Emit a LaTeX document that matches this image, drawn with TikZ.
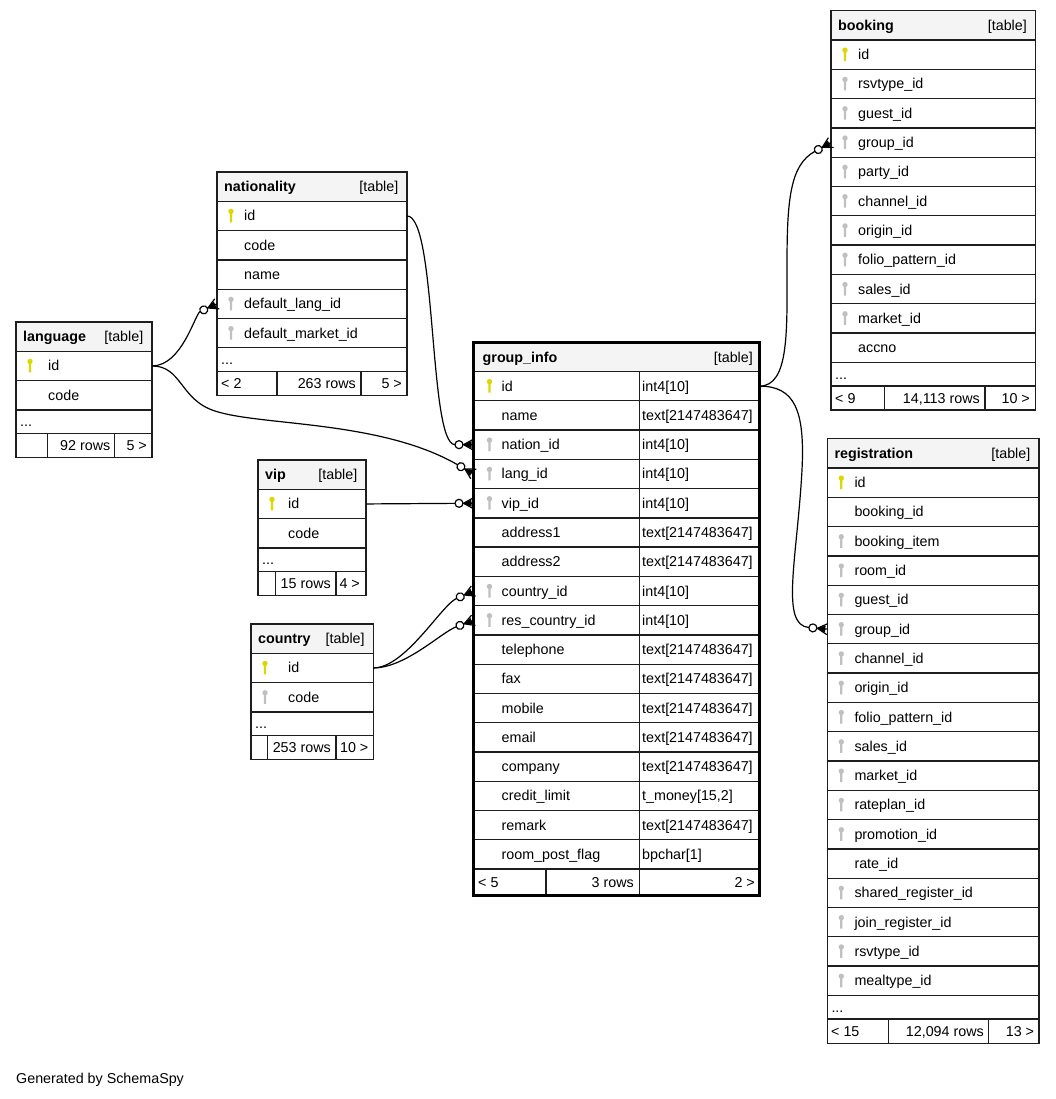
\documentclass[tikz,border=0pt]{standalone}
\usepackage{fontspec}
\setmainfont{Liberation Sans}
\usetikzlibrary{arrows.meta}
\definecolor{chaveP}{RGB}{222,214,0}
\definecolor{chaveE}{RGB}{192,192,192}
\definecolor{fundocab}{RGB}{244,244,244}
\definecolor{borda}{RGB}{30,30,30}
\pgfdeclarearrow{ %Pe de galinha com circulo (zero ou muitos)
  name = PeCorvo,
  setup code = {
    \pgfarrowssettipend{0pt}
    \pgfarrowssetbackend{-18.5pt}
    \pgfarrowssetlineend{-18.5pt}
    \pgfarrowshullpoint{0pt}{5.5pt}
    \pgfarrowshullpoint{0pt}{-5.5pt}
    \pgfarrowshullpoint{-18.5pt}{0pt}
  },
  drawing code = {
    \pgfsetdash{}{0pt}
    \pgfsetmiterjoin
    \pgfpathmoveto{\pgfqpoint{0pt}{5.5pt}}
    \pgfpathlineto{\pgfqpoint{-10pt}{0pt}}
    \pgfpathlineto{\pgfqpoint{0pt}{-5.5pt}}
    \pgfpathmoveto{\pgfqpoint{-10pt}{0pt}}
    \pgfpathlineto{\pgfqpoint{0pt}{0pt}}
    \pgfusepathqstroke
    \pgfpathmoveto{\pgfqpoint{-10pt}{0pt}}
    \pgfpathlineto{\pgfqpoint{-2pt}{3.5pt}}
    \pgfpathlineto{\pgfqpoint{-2pt}{-3.5pt}}
    \pgfpathclose
    \pgfusepathqfill
    \pgfpathcircle{\pgfqpoint{-14.5pt}{0pt}}{4pt}
    \pgfusepathqstroke
  }
}
\begin{document}
\begin{tikzpicture}[x=1pt, y=-1pt,  %Inicio Grafico, 1 unidade = 1 pixel
  linha/.style={draw=borda, line width=1.3pt, fill=white, anchor=north west, inner sep=0pt, outer sep=0pt, minimum height=29.3pt},
  cab/.style={linha, fill=fundocab},
  reticencias/.style={linha, minimum height=23.6pt},
  rodape/.style={linha, minimum height=24.2pt},
  texto/.style={anchor=base west, inner sep=0pt, font=\fontsize{14.3}{17}\selectfont},
  titulo/.style={texto, font=\fontsize{14.3}{17}\selectfont\bfseries},
  direita/.style={texto, anchor=base east},
  pk/.style={fill=chaveP}, fk/.style={fill=chaveE}, sk/.style={},
  rel/.style={draw=black, line width=1.2pt, -{PeCorvo[]}}]
\useasboundingbox (0,0) rectangle (1055,1099); %Margens
    %Tabela language
\node[cab, minimum width=136pt] (lang) at (16,322) {};
\node[titulo] (lang-n) at ([xshift=7pt,yshift=-5pt]lang.west) {language};
\node[direita] (lang-tb) at ([xshift=-8.5pt,yshift=-5pt]lang.east) {[table]};
\foreach \chave/\campo [count=\i] in {pk/id, sk/code}{
  \node[linha, minimum width=136pt] (lang-\i) at (16,{351.3+(\i-1)*29.3}) {};
  \path[\chave] ([xshift=14pt,yshift=4.5pt]lang-\i.west) circle (2.7pt) ([xshift=12.9pt,yshift=4.5pt]lang-\i.west) rectangle ([xshift=15.1pt,yshift=-6.5pt]lang-\i.west);
  \node[texto] (lang-\i-t) at ([xshift=32pt,yshift=-5pt]lang-\i.west) {\campo};
}
\node[reticencias, minimum width=136pt] (lang-d) at (16,409.9) {};
\node[texto] (lang-dt) at ([xshift=4pt,yshift=-5pt]lang-d.west) {...};
\node[rodape, minimum width=136pt] (lang-r) at (16,433.5) {};
\draw[borda, line width=1.3pt] (47.7,433.5) -- (47.7,457.7) (114.3,433.5) -- (114.3,457.7); %Divisoes rodape
\node[direita] (lang-r2) at (110.5,450.6) {92 rows};
\node[direita] (lang-r3) at (147,450.6) {5 >};
    %Tabela nationality
\node[cab, minimum width=190pt] (nat) at (217,172) {};
\node[titulo] (nat-n) at ([xshift=7pt,yshift=-5pt]nat.west) {nationality};
\node[direita] (nat-tb) at ([xshift=-8.5pt,yshift=-5pt]nat.east) {[table]};
\foreach \chave/\campo [count=\i] in {pk/id, sk/code, sk/name, fk/default\_lang\_id, fk/default\_market\_id}{
  \node[linha, minimum width=190pt] (nat-\i) at (217,{201.3+(\i-1)*29.3}) {};
  \path[\chave] ([xshift=14pt,yshift=4.5pt]nat-\i.west) circle (2.7pt) ([xshift=12.9pt,yshift=4.5pt]nat-\i.west) rectangle ([xshift=15.1pt,yshift=-6.5pt]nat-\i.west);
  \node[texto] (nat-\i-t) at ([xshift=27pt,yshift=-5pt]nat-\i.west) {\campo};
}
\node[reticencias, minimum width=190pt] (nat-d) at (217,347.8) {};
\node[texto] (nat-dt) at ([xshift=4pt,yshift=-5pt]nat-d.west) {...};
\node[rodape, minimum width=190pt] (nat-r) at (217,371.4) {};
\draw[borda, line width=1.3pt] (277,371.4) -- (277,395.6) (361,371.4) -- (361,395.6); %Divisoes rodape
\node[texto] (nat-r1) at (221,388.5) {< 2};
\node[direita] (nat-r2) at (356,388.5) {263 rows};
\node[direita] (nat-r3) at (402,388.5) {5 >};
    %Tabela vip
\node[cab, minimum width=108pt] (vip) at (258,460) {};
\node[titulo] (vip-n) at ([xshift=7pt,yshift=-5pt]vip.west) {vip};
\node[direita] (vip-tb) at ([xshift=-8.5pt,yshift=-5pt]vip.east) {[table]};
\foreach \chave/\campo [count=\i] in {pk/id, sk/code}{
  \node[linha, minimum width=108pt] (vip-\i) at (258,{489.3+(\i-1)*29.3}) {};
  \path[\chave] ([xshift=14pt,yshift=4.5pt]vip-\i.west) circle (2.7pt) ([xshift=12.9pt,yshift=4.5pt]vip-\i.west) rectangle ([xshift=15.1pt,yshift=-6.5pt]vip-\i.west);
  \node[texto] (vip-\i-t) at ([xshift=30pt,yshift=-5pt]vip-\i.west) {\campo};
}
\node[reticencias, minimum width=108pt] (vip-d) at (258,547.9) {};
\node[texto] (vip-dt) at ([xshift=4pt,yshift=-5pt]vip-d.west) {...};
\node[rodape, minimum width=108pt] (vip-r) at (258,571.5) {};
\draw[borda, line width=1.3pt] (275.7,571.5) -- (275.7,595.7) (336,571.5) -- (336,595.7); %Divisoes rodape
\node[direita] (vip-r2) at (331,588.6) {15 rows};
\node[direita] (vip-r3) at (360,588.6) {4 >};
    %Tabela country
\node[cab, minimum width=122.3pt] (cty) at (251,624) {};
\node[titulo] (cty-n) at ([xshift=7pt,yshift=-5pt]cty.west) {country};
\node[direita] (cty-tb) at ([xshift=-8.5pt,yshift=-5pt]cty.east) {[table]};
\foreach \chave/\campo [count=\i] in {pk/id, fk/code}{
  \node[linha, minimum width=122.3pt] (cty-\i) at (251,{653.3+(\i-1)*29.3}) {};
  \path[\chave] ([xshift=14pt,yshift=4.5pt]cty-\i.west) circle (2.7pt) ([xshift=12.9pt,yshift=4.5pt]cty-\i.west) rectangle ([xshift=15.1pt,yshift=-6.5pt]cty-\i.west);
  \node[texto] (cty-\i-t) at ([xshift=37pt,yshift=-5pt]cty-\i.west) {\campo};
}
\node[reticencias, minimum width=122.3pt] (cty-d) at (251,711.9) {};
\node[texto] (cty-dt) at ([xshift=4pt,yshift=-5pt]cty-d.west) {...};
\node[rodape, minimum width=122.3pt] (cty-r) at (251,735.5) {};
\draw[borda, line width=1.3pt] (267.7,735.5) -- (267.7,759.7) (336,735.5) -- (336,759.7); %Divisoes rodape
\node[direita] (cty-r2) at (331,752.6) {253 rows};
\node[direita] (cty-r3) at (368.5,752.6) {10 >};
    %Tabela group_info
\node[cab, minimum width=286pt] (gi) at (473.5,342.5) {};
\node[titulo] (gi-n) at ([xshift=9pt,yshift=-5pt]gi.west) {group\_info};
\node[direita] (gi-tb) at ([xshift=-6.5pt,yshift=-5pt]gi.east) {[table]};
\foreach \chave/\campo/\tipo [count=\i] in {pk/id/int4[10], sk/name/text[2147483647], fk/nation\_id/int4[10], fk/lang\_id/int4[10], fk/vip\_id/int4[10], sk/address1/text[2147483647], sk/address2/text[2147483647], fk/country\_id/int4[10], fk/res\_country\_id/int4[10], sk/telephone/text[2147483647], sk/fax/text[2147483647], sk/mobile/text[2147483647], sk/email/text[2147483647], sk/company/text[2147483647], sk/credit\_limit/{t\_money[15,2]}, sk/remark/text[2147483647], sk/room\_post\_flag/bpchar[1]}{
  \node[linha, minimum width=286pt, minimum height=29.27pt] (gi-\i) at (473.5,{371.5+(\i-1)*29.27}) {};
  \path[\chave] ([xshift=16pt,yshift=4.5pt]gi-\i.west) circle (2.7pt) ([xshift=14.9pt,yshift=4.5pt]gi-\i.west) rectangle ([xshift=17.1pt,yshift=-6.5pt]gi-\i.west);
  \node[texto] (gi-\i-t) at ([xshift=28pt,yshift=-5pt]gi-\i.west) {\campo};
  \node[texto] (gi-\i-y) at ([xshift=168.5pt,yshift=-5pt]gi-\i.west) {\tipo};
}
\node[rodape, minimum width=286pt, minimum height=26.5pt] (gi-r) at (473.5,869.1) {};
\draw[borda, line width=1.3pt] (639.3,371.5) -- (639.3,895.6) (546,869.1) -- (546,895.6); %Divisoes colunas
\draw[black, line width=3pt] (gi.north west) rectangle (gi-r.south east); %Borda grossa
\node[texto] (gi-r1) at (478,887.3) {< 5};
\node[direita] (gi-r2) at (634,887.3) {3 rows};
\node[direita] (gi-r3) at (755,887.3) {2 >};
    %Tabela booking
\node[cab, minimum width=204.5pt] (bk) at (831,10.7) {};
\node[titulo] (bk-n) at ([xshift=7pt,yshift=-5pt]bk.west) {booking};
\node[direita] (bk-tb) at ([xshift=-8.5pt,yshift=-5pt]bk.east) {[table]};
\foreach \chave/\campo [count=\i] in {pk/id, fk/rsvtype\_id, fk/guest\_id, fk/group\_id, fk/party\_id, fk/channel\_id, fk/origin\_id, fk/folio\_pattern\_id, fk/sales\_id, fk/market\_id, sk/accno}{
  \node[linha, minimum width=204.5pt] (bk-\i) at (831,{40+(\i-1)*29.3}) {};
  \path[\chave] ([xshift=14pt,yshift=4.5pt]bk-\i.west) circle (2.7pt) ([xshift=12.9pt,yshift=4.5pt]bk-\i.west) rectangle ([xshift=15.1pt,yshift=-6.5pt]bk-\i.west);
  \node[texto] (bk-\i-t) at ([xshift=27pt,yshift=-5pt]bk-\i.west) {\campo};
}
\node[reticencias, minimum width=204.5pt] (bk-d) at (831,362.3) {};
\node[texto] (bk-dt) at ([xshift=4pt,yshift=-5pt]bk-d.west) {...};
\node[rodape, minimum width=204.5pt] (bk-r) at (831,385.9) {};
\draw[borda, line width=1.3pt] (884.7,385.9) -- (884.7,410.1) (985,385.9) -- (985,410.1); %Divisoes rodape
\node[texto] (bk-r1) at (835,403) {< 9};
\node[direita] (bk-r2) at (980,403) {14,113 rows};
\node[direita] (bk-r3) at (1030,403) {10 >};
    %Tabela registration
\node[cab, minimum width=211.7pt] (reg) at (827.3,438.7) {};
\node[titulo] (reg-n) at ([xshift=7pt,yshift=-5pt]reg.west) {registration};
\node[direita] (reg-tb) at ([xshift=-8.5pt,yshift=-5pt]reg.east) {[table]};
\foreach \chave/\campo [count=\i] in {pk/id, sk/booking\_id, fk/booking\_item, fk/room\_id, fk/guest\_id, fk/group\_id, fk/channel\_id, fk/origin\_id, fk/folio\_pattern\_id, fk/sales\_id, fk/market\_id, fk/rateplan\_id, fk/promotion\_id, sk/rate\_id, fk/shared\_register\_id, fk/join\_register\_id, fk/rsvtype\_id, fk/mealtype\_id}{
  \node[linha, minimum width=211.7pt] (reg-\i) at (827.3,{468+(\i-1)*29.3}) {};
  \path[\chave] ([xshift=14pt,yshift=4.5pt]reg-\i.west) circle (2.7pt) ([xshift=12.9pt,yshift=4.5pt]reg-\i.west) rectangle ([xshift=15.1pt,yshift=-6.5pt]reg-\i.west);
  \node[texto] (reg-\i-t) at ([xshift=27pt,yshift=-5pt]reg-\i.west) {\campo};
}
\node[reticencias, minimum width=211.7pt] (reg-d) at (827.3,995.4) {};
\node[texto] (reg-dt) at ([xshift=4pt,yshift=-5pt]reg-d.west) {...};
\node[rodape, minimum width=211.7pt] (reg-r) at (827.3,1019) {};
\draw[borda, line width=1.3pt] (888.7,1019) -- (888.7,1043.2) (988.7,1019) -- (988.7,1043.2); %Divisoes rodape
\node[texto] (reg-r1) at (831,1036.1) {< 15};
\node[direita] (reg-r2) at (984,1036.1) {12,094 rows};
\node[direita] (reg-r3) at (1034.3,1036.1) {13 >};
    %Relacionamentos
\draw[rel] (nat-1.east) .. controls +(30,0) and +(-45,0) .. (gi-3.west); %nation_id
\draw[rel] (lang-1.east) .. controls +(30,0) and +(-22,10) .. (nat-4.west); %default_lang_id
\draw[rel] (lang-1.east) .. controls +(30,0) and (180,400) .. (215,411) .. controls (260,426) and (380,420) .. (gi-4.west); %lang_id
\draw[rel] (vip-1.east) -- (gi-5.west); %vip_id
\draw[rel] (cty-1.east) .. controls +(32,0) and +(-32,14) .. (gi-8.west); %country_id
\draw[rel] (cty-1.east) .. controls +(32,0) and +(-32,12) .. (gi-9.west); %res_country_id
\draw[rel] (gi-1.east) .. controls +(30,0) and (787,330) .. (787,265) .. controls (787,200) and (790,165) .. (bk-4.west); %booking.group_id
\draw[rel] (gi-1.east) .. controls +(35,0) and (805,410) .. (802,470) .. controls (797,560) and (780,625) .. (reg-6.west); %registration.group_id
\node[texto] (gerado) at (16,1083.5) {Generated by SchemaSpy};
\end{tikzpicture}
\end{document}
